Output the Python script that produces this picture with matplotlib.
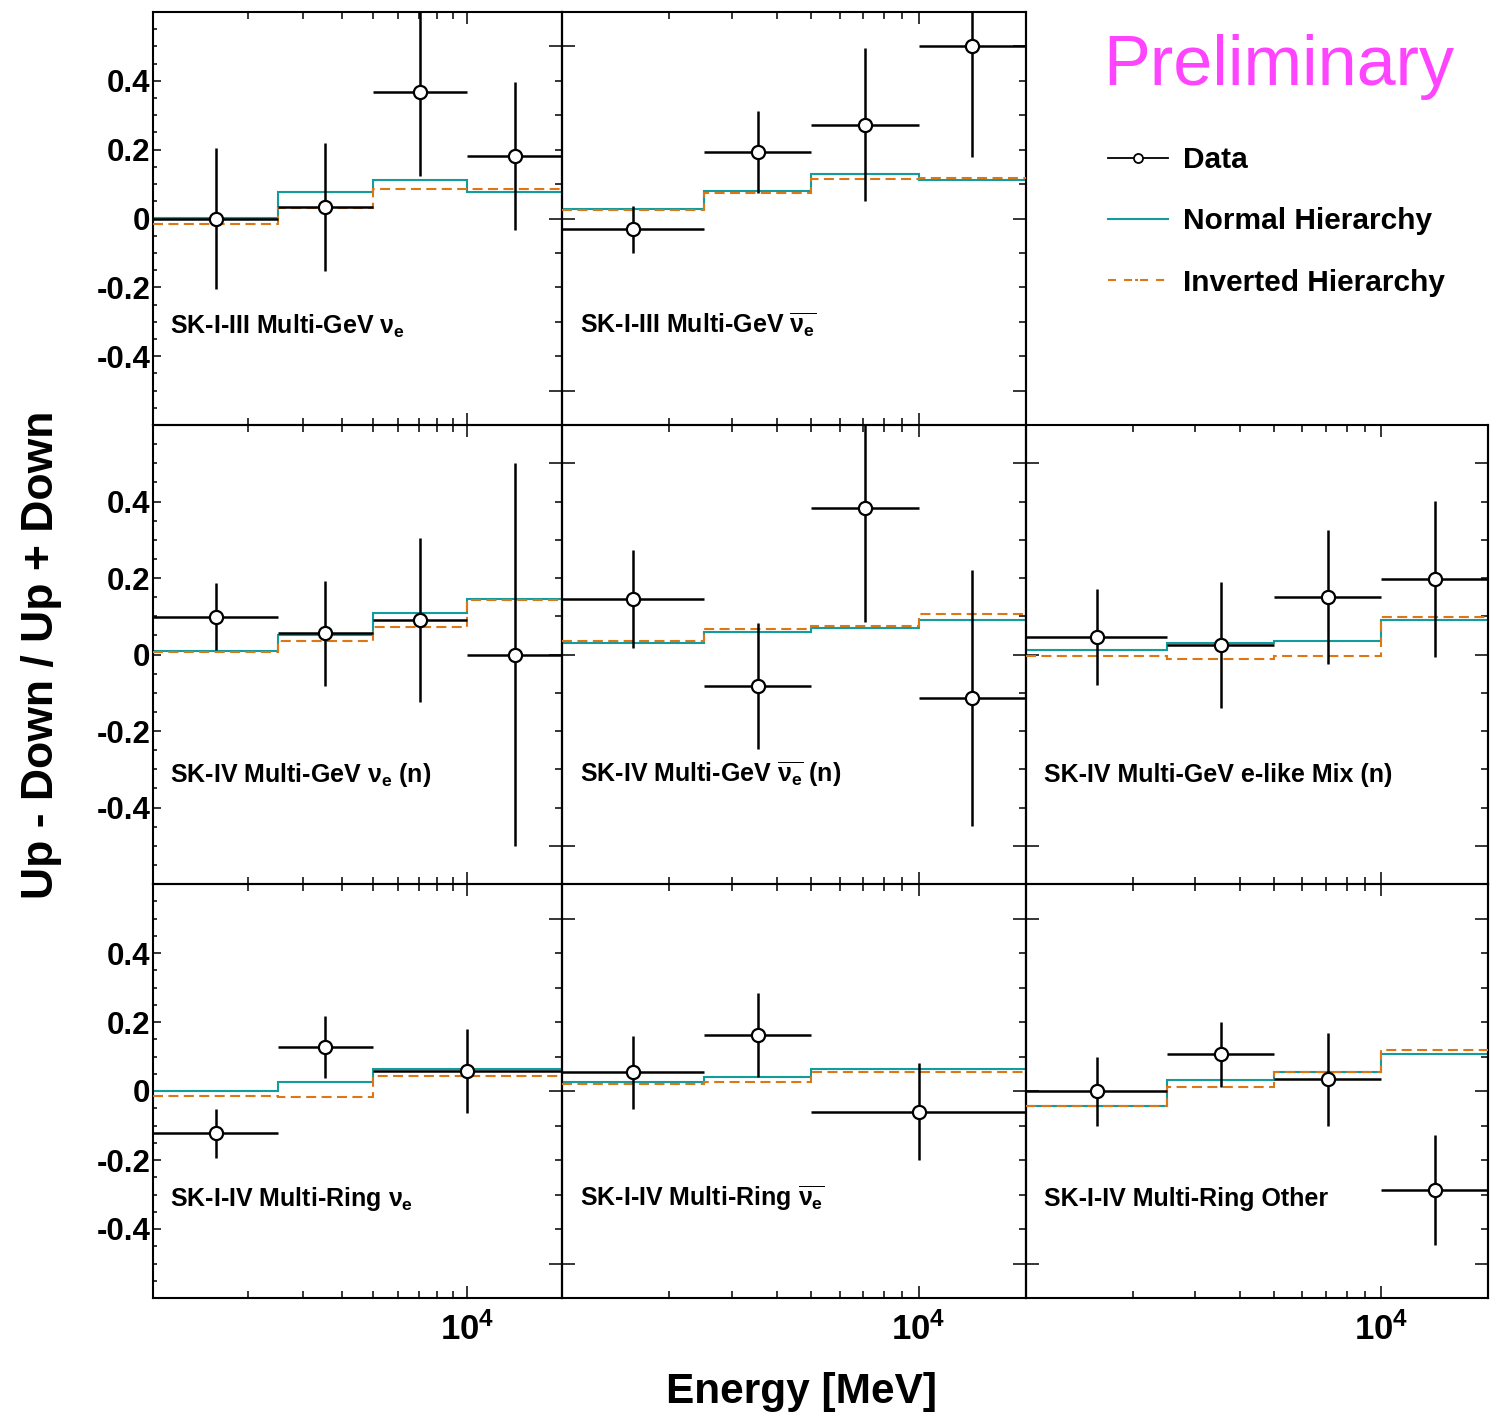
import matplotlib
matplotlib.use('Agg')
import matplotlib.pyplot as plt
from matplotlib.ticker import FixedLocator, FixedFormatter, NullFormatter
from matplotlib.lines import Line2D
import numpy as np

plt.rcParams.update({
    'font.family': ['Liberation Sans', 'DejaVu Sans'],
    'font.weight': 'bold',
    'mathtext.fontset': 'custom',
    'mathtext.rm': 'Liberation Sans:bold',
    'mathtext.bf': 'Liberation Sans:bold',
    'mathtext.it': 'Liberation Sans',
    'mathtext.sf': 'Liberation Sans:bold',
    'axes.unicode_minus': False,
})

# ---------------- data ----------------
edges4 = [1000, 2500, 5000, 10000, 20000]
edges3 = [1000, 2500, 5000, 20000]

labels = [
    'SK-I-III Multi-GeV $\\nu_{\\mathbf{e}}$',
    'SK-I-III Multi-GeV $\\overline{\\nu_{\\mathbf{e}}}$',
    'SK-IV Multi-GeV $\\nu_{\\mathbf{e}}$ (n)',
    'SK-IV Multi-GeV $\\overline{\\nu_{\\mathbf{e}}}$ (n)',
    'SK-IV Multi-GeV e-like Mix (n)',
    'SK-I-IV Multi-Ring $\\nu_{\\mathbf{e}}$',
    'SK-I-IV Multi-Ring $\\overline{\\nu_{\\mathbf{e}}}$',
    'SK-I-IV Multi-Ring Other',
]

p1_data = [0.000, 0.034, 0.368, 0.182]
p1_err = [0.205, 0.186, 0.245, 0.215]
p1_nh = [0.001, 0.077, 0.112, 0.078]
p1_ih = [-0.016, 0.030, 0.086, 0.086]

p2_data = [-0.031, 0.193, 0.273, 0.501]
p2_err = [0.068, 0.120, 0.222, 0.323]
p2_nh = [0.027, 0.081, 0.128, 0.112]
p2_ih = [0.025, 0.073, 0.115, 0.117]

p3_data = [0.099, 0.055, 0.090, 0.000]
p3_err = [0.088, 0.137, 0.215, 0.500]
p3_nh = [0.010, 0.051, 0.109, 0.145]
p3_ih = [0.007, 0.034, 0.071, 0.142]

p4_data = [0.145, -0.082, 0.382, -0.113]
p4_err = [0.128, 0.165, 0.296, 0.335]
p4_nh = [0.031, 0.060, 0.068, 0.090]
p4_ih = [0.035, 0.067, 0.075, 0.105]

p5_data = [0.045, 0.025, 0.150, 0.197]
p5_err = [0.125, 0.164, 0.176, 0.204]
p5_nh = [0.012, 0.031, 0.034, 0.090]
p5_ih = [-0.004, -0.013, -0.003, 0.097]

p6_data = [-0.123, 0.127, 0.059]
p6_err = [0.071, 0.090, 0.122]
p6_nh = [-0.001, 0.025, 0.063]
p6_ih = [-0.014, -0.016, 0.043]

p7_data = [0.054, 0.162, -0.060]
p7_err = [0.105, 0.122, 0.140]
p7_nh = [0.026, 0.041, 0.063]
p7_ih = [0.021, 0.026, 0.055]

p8_data = [0.000, 0.106, 0.034, -0.287]
p8_err = [0.100, 0.094, 0.134, 0.159]
p8_nh = [-0.043, 0.032, 0.054, 0.107]
p8_ih = [-0.043, 0.013, 0.054, 0.119]

ytick_vals = [-0.4, -0.2, 0.0, 0.2, 0.4]
ytick_labels = ['-0.4', '-0.2', '0', '0.2', '0.4']
xtick_major = [1000, 10000]
xtick_labels = ['', '$\\mathbf{10^{4}}$']
xtick_minor = [2000, 3000, 4000, 5000, 6000, 7000, 8000, 9000]

# ---------------- layout ----------------
W, H = 1494, 1414
col_px = [(153, 562), (562, 1026), (1026, 1488)]
row_px = [(12, 425), (425, 884), (884, 1298)]

panels = [
    (0, 0, edges4, p1_data, p1_err, p1_nh, p1_ih),
    (0, 1, edges4, p2_data, p2_err, p2_nh, p2_ih),
    (1, 0, edges4, p3_data, p3_err, p3_nh, p3_ih),
    (1, 1, edges4, p4_data, p4_err, p4_nh, p4_ih),
    (1, 2, edges4, p5_data, p5_err, p5_nh, p5_ih),
    (2, 0, edges3, p6_data, p6_err, p6_nh, p6_ih),
    (2, 1, edges3, p7_data, p7_err, p7_nh, p7_ih),
    (2, 2, edges4, p8_data, p8_err, p8_nh, p8_ih),
]

TEAL = '#129C9C'
ORANGE = '#DD7614'
MAGENTA = '#FF44FF'
SPINE_LW = 1.5
IH_DASH = (0, (4.8, 2.6))

fig = plt.figure(figsize=(W / 100, H / 100), dpi=100)

for idx, (r, c, edges, dv, de, nh, ih) in enumerate(panels):
    x0, x1 = col_px[c]
    y0, y1 = row_px[r]
    ax = fig.add_axes([x0 / W, 1 - y1 / H, (x1 - x0) / W, (y1 - y0) / H])
    ax.set_facecolor('none')
    ax.set_xscale('log')
    ax.set_xlim(1000, 20000)
    ax.set_ylim(-0.6, 0.6)

    e = np.array(edges, dtype=float)
    centers = np.sqrt(e[:-1] * e[1:])
    ax.stairs(nh, e, color=TEAL, lw=1.5, baseline=None, zorder=2)
    ax.stairs(ih, e, color=ORANGE, lw=1.5, ls=IH_DASH, baseline=None, zorder=3)
    ax.errorbar(centers, dv, yerr=de, xerr=[centers - e[:-1], e[1:] - centers],
                fmt='o', color='k', mfc='white', mec='k', ms=9.5, mew=1.6,
                elinewidth=1.8, capsize=0, zorder=5)

    for s in ax.spines.values():
        s.set_linewidth(SPINE_LW)

    # x axis
    ax.xaxis.set_major_locator(FixedLocator(xtick_major))
    ax.xaxis.set_minor_locator(FixedLocator(xtick_minor))
    ax.xaxis.set_minor_formatter(NullFormatter())
    if r == 2:
        ax.xaxis.set_major_formatter(FixedFormatter(xtick_labels))
    else:
        ax.xaxis.set_major_formatter(NullFormatter())
    ax.tick_params(axis='x', which='major', direction='in', top=True, bottom=True,
                   length=8.6, width=1.1, labelsize=25, pad=10)
    ax.tick_params(axis='x', which='minor', direction='in', top=True, bottom=True,
                   length=5.2, width=1.1)

    # left y axis
    if c == 0:
        ax.yaxis.set_major_locator(FixedLocator(ytick_vals))
        ax.yaxis.set_major_formatter(FixedFormatter(ytick_labels))
        ax.yaxis.set_minor_locator(FixedLocator(np.round(np.arange(-0.55, 0.56, 0.05), 2)))
        ax.tick_params(axis='y', which='major', direction='in', left=True, right=False,
                       length=6, width=1.1, labelsize=22.5, pad=2)
        ax.tick_params(axis='y', which='minor', direction='in', left=True, right=False,
                       length=2.6, width=1.1)
    else:
        ax.yaxis.set_major_locator(FixedLocator([-0.5, 0.0, 0.5]))
        ax.yaxis.set_major_formatter(NullFormatter())
        ax.yaxis.set_minor_locator(FixedLocator([]))
        ax.tick_params(axis='y', which='major', direction='in', left=True, right=False,
                       length=9.2, width=1.1)
    ax.yaxis.set_minor_formatter(NullFormatter())

    # right y axis
    sec = ax.secondary_yaxis('right')
    sec.yaxis.set_major_locator(FixedLocator([-0.5, 0.0, 0.5]))
    sec.yaxis.set_minor_locator(FixedLocator([-0.4, -0.3, -0.2, -0.1, 0.1, 0.2, 0.3, 0.4]))
    sec.yaxis.set_major_formatter(NullFormatter())
    sec.yaxis.set_minor_formatter(NullFormatter())
    sec.tick_params(axis='y', which='major', direction='in', length=9.2, width=1.1)
    sec.tick_params(axis='y', which='minor', direction='in', length=5.0, width=1.1)
    for s in sec.spines.values():
        s.set_linewidth(SPINE_LW)

    ax.text(17.5 / (x1 - x0), 0.222, labels[idx], transform=ax.transAxes,
            fontsize=18, fontweight='bold', ha='left', va='baseline')

# legend and annotations
fig.text(1103 / W, 1 - 85 / H, 'Preliminary', color=MAGENTA, fontsize=50.5,
         fontweight='normal', family='Liberation Sans', ha='left', va='baseline')

handles = [
    Line2D([], [], color='k', lw=1.3, marker='o', mfc='white', mec='k', ms=6.5, mew=1.3),
    Line2D([], [], color=TEAL, lw=1.5),
    Line2D([], [], color=ORANGE, lw=1.5,
           ls=(0, (3.85, 3.85, 3.85, 1.44, 1.44, 0.96, 3.85, 3.85, 3.85, 3.85))),
]
fig.legend(handles, ['Data', 'Normal Hierarchy', 'Inverted Hierarchy'],
           loc='upper left', bbox_to_anchor=(1108 / W, 1 - 146 / H),
           frameon=False, handlelength=2.0, handletextpad=0.5, labelspacing=1.12,
           borderpad=0, borderaxespad=0, prop={'weight': 'bold', 'size': 21.5,
                                               'family': 'Liberation Sans'})

fig.text(42 / W, 1 - 655 / H, 'Up - Down / Up + Down', rotation=90, fontsize=32,
         fontweight='bold', ha='center', va='center')
fig.text(802 / W, 1 - 1392 / H, 'Energy [MeV]', fontsize=30.5, fontweight='bold',
         ha='center', va='center')

fig.savefig('out.png', dpi=100)
